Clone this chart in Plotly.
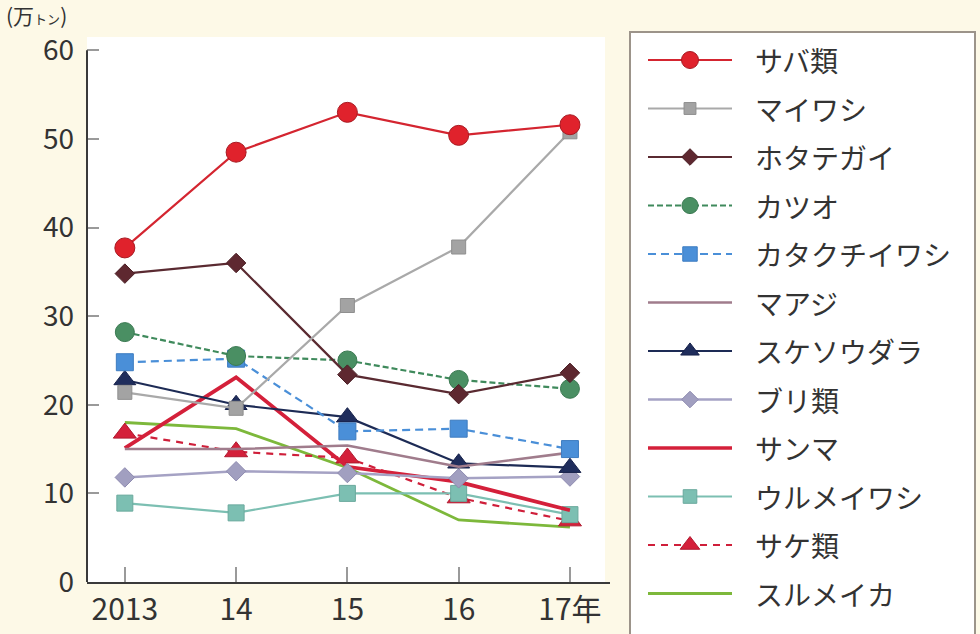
import plotly.graph_objects as go

# 主要魚種の漁獲量推移（万トン）
years = [2013, 2014, 2015, 2016, 2017]
year_labels = ["2013", "14", "15", "16", "17年"]

saba = [37.7, 48.5, 53.0, 50.4, 51.6]
maiwashi = [21.4, 19.6, 31.2, 37.8, 50.8]
hotategai = [34.8, 36.0, 23.4, 21.2, 23.6]
katsuo = [28.2, 25.5, 25.0, 22.8, 21.8]
katakuchi = [24.8, 25.2, 17.0, 17.3, 15.0]
maaji = [15.0, 15.0, 15.4, 13.0, 14.6]
sukesou = [22.8, 20.0, 18.6, 13.4, 12.9]
buri = [11.8, 12.5, 12.3, 11.7, 11.9]
sanma = [15.1, 23.1, 13.0, 11.3, 8.1]
urume = [8.9, 7.8, 10.0, 10.0, 7.6]
sake = [16.8, 14.7, 14.0, 9.5, 6.9]
surume = [18.0, 17.3, 12.9, 7.0, 6.2]

series = [
    # name, values, color, width, dash, symbol, marker size, marker color, outline
    ("サバ類", saba, "#d42530", 2.2, "solid", "circle", 20, "#e0222c", "#a81a22"),
    ("マイワシ", maiwashi, "#a9a9a9", 2.2, "solid", "square", 14, "#a3a3a3", "#8f8f8f"),
    ("ホタテガイ", hotategai, "#5a2a31", 2.2, "solid", "diamond", 15, "#5e2830", "#4a1e24"),
    ("カツオ", katsuo, "#3f8a5c", 2.2, "6px,3px", "circle", 19, "#4a8f63", "#3b7a52"),
    ("カタクチイワシ", katakuchi, "#4a8fd8", 2.2, "8px,5px", "square", 17, "#4a8fd8", "#3d7cc0"),
    ("マアジ", maaji, "#a07c8c", 2.6, "solid", None, 0, None, None),
    ("スケソウダラ", sukesou, "#1d2b55", 2.2, "solid", "triangle-up", 19, "#1f2d5c", "#16214a"),
    ("ブリ類", buri, "#a5a2c4", 2.6, "solid", "diamond", 15, "#a19fc0", "#8e8bb0"),
    ("サンマ", sanma, "#d4203a", 3.8, "solid", None, 0, None, None),
    ("ウルメイワシ", urume, "#7cbfb2", 2.2, "solid", "square", 16, "#7cbfb2", "#6aa99d"),
    ("サケ類", sake, "#cf1f3a", 2.2, "7px,6px", "triangle-up", 20, "#d4203a", "#b01a30"),
    ("スルメイカ", surume, "#7db83b", 2.8, "solid", None, 0, None, None),
]

W, H = 980, 634
ML, MR, MT, MB = 87, 5, 30, 5
PW, PH = W - ML - MR, H - MT - MB


def px_x(px):
    return (px - ML) / PW


def px_y(py):
    return (H - MB - py) / PH


FONT = "Noto Sans CJK JP, Noto Sans, sans-serif"
TXT = "#333333"

fig = go.Figure()

# 折れ線（描画順は後ろから）
for name, vals, color, width, dash, sym, msize, mcolor, mline in reversed(series):
    mode = "lines+markers" if sym else "lines"
    marker = dict(symbol=sym, size=msize, color=mcolor,
                  line=dict(color=mline, width=1)) if sym else None
    fig.add_trace(go.Scatter(
        x=years, y=vals, mode=mode, name=name, showlegend=False,
        line=dict(color=color, width=width, dash=dash),
        marker=marker, xaxis="x", yaxis="y", cliponaxis=False,
    ))

# 凡例（右側の枠内）
row0, row_gap = 60, 48.5
lx0, lx1, lxm, ltx = 648, 732, 690, 753
for i, (name, vals, color, width, dash, sym, msize, mcolor, mline) in enumerate(series):
    ry = row0 + i * row_gap
    fig.add_trace(go.Scatter(
        x=[lx0, lx1], y=[ry, ry], mode="lines", showlegend=False,
        line=dict(color=color, width=width if width < 3 else 3.4, dash=dash),
        xaxis="x2", yaxis="y2", hoverinfo="skip", cliponaxis=False,
    ))
    if sym:
        fig.add_trace(go.Scatter(
            x=[lxm], y=[ry], mode="markers", showlegend=False,
            marker=dict(symbol=sym, size=msize * 0.85, color=mcolor,
                        line=dict(color=mline, width=1)),
            xaxis="x2", yaxis="y2", hoverinfo="skip", cliponaxis=False,
        ))
    fig.add_annotation(x=ltx, y=ry, xref="x2", yref="y2", text=name,
                       showarrow=False, xanchor="left", yanchor="middle",
                       font=dict(family=FONT, size=28, color=TXT))

shapes = [
    # 凡例の枠
    dict(type="rect", xref="paper", yref="paper",
         x0=px_x(630), x1=px_x(975), y0=px_y(645), y1=px_y(32),
         line=dict(color="#9c948a", width=2), fillcolor="white", layer="below"),
    # 白い描画領域
    dict(type="rect", xref="paper", yref="paper",
         x0=0, x1=px_x(605), y0=px_y(582), y1=px_y(37),
         fillcolor="white", line=dict(width=0), layer="below"),
    # 縦軸線
    dict(type="line", xref="paper", yref="y", x0=0, x1=0, y0=0, y1=60,
         line=dict(color="#3a3a3a", width=2)),
]

# 単位
fig.add_annotation(
    x=px_x(4), y=px_y(15), xref="paper", yref="paper",
    text="(万<span style='font-size:13px'>トン</span>)", showarrow=False,
    xanchor="left", yanchor="middle",
    font=dict(family=FONT, size=21, color=TXT),
)

fig.update_layout(
    width=W, height=H,
    margin=dict(l=ML, r=MR, t=MT, b=MB, autoexpand=False),
    paper_bgcolor="#fdf9e7",
    plot_bgcolor="rgba(0,0,0,0)",
    showlegend=False,
    shapes=shapes,
    xaxis=dict(
        domain=[0, px_x(610)], range=[2012.66, 2017.36],
        tickvals=years, ticktext=year_labels,
        ticks="inside", ticklen=15, tickwidth=1.5, tickcolor="#9a9a9a",
        showline=True, linecolor="#3a3a3a", linewidth=2,
        showgrid=False, zeroline=False, anchor="y", automargin=False,
        tickfont=dict(family=FONT, size=30, color=TXT),
    ),
    yaxis=dict(
        domain=[px_y(582), px_y(37)], range=[0, 61.5],
        tickvals=[0, 10, 20, 30, 40, 50, 60],
        ticks="inside", ticklen=12, tickwidth=1.5, tickcolor="#9a9a9a",
        showline=False, showgrid=False, zeroline=False, anchor="x",
        automargin=False, ticklabelstandoff=12,
        tickfont=dict(family=FONT, size=28, color=TXT),
    ),
    xaxis2=dict(domain=[px_x(630), px_x(975)], range=[630, 975],
                visible=False, anchor="y2", automargin=False),
    yaxis2=dict(domain=[0, 1], range=[H - MB, MT],
                visible=False, anchor="x2", automargin=False),
)

fig.write_html("out.html")
